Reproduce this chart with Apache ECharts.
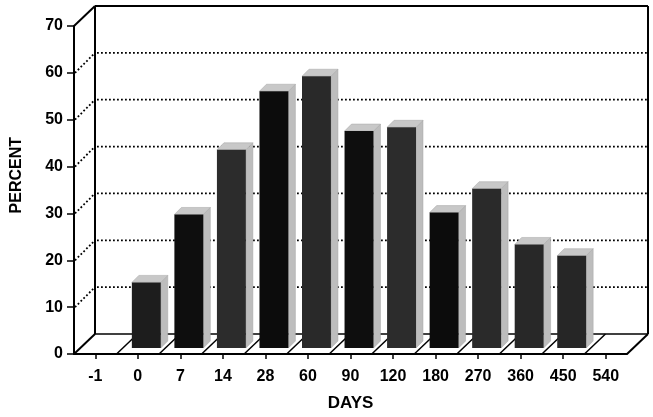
<!DOCTYPE html>
<html>
<head>
<meta charset="utf-8">
<script src="https://cdn.jsdelivr.net/npm/echarts@6/dist/echarts.min.js"></script>
<style>
html,body{margin:0;padding:0;background:#fff;}
#chart{width:653px;height:417px;}
</style>
</head>
<body>
<div id="chart"></div>
<script>
// ---- data ----
const DAY_LABELS = ['-1', '0', '7', '14', '28', '60', '90', '120', '180', '270', '360', '450', '540'];
const BAR_DAYS = ['0', '7', '14', '28', '60', '90', '120', '180', '270', '360', '450'];
const PERCENT_VALUES = [14, 28.5, 42.3, 54.8, 58, 46.3, 47.1, 28.9, 34, 22.1, 19.7];
const Y_TICKS = [0, 10, 20, 30, 40, 50, 60, 70];

// ---- styles ----
const BAR_FILLS = ['#1d1d1d', '#0e0e0e', '#2c2c2c', '#0c0c0c', '#292929', '#0e0e0e', '#2c2c2c', '#0c0c0c', '#2a2a2a', '#282828', '#262626'];
const FONT = 'Liberation Sans';
const WALL_DX = 21, WALL_DY = -20;   // depth offset of back wall
const BAR_LIFT = 6;                  // bars sit slightly back from floor front edge
const BAR_DEPTH = 7;

const chart = echarts.init(document.getElementById('chart'), null, {renderer: 'canvas'});

function frameRender(params, api) {
  const band = api.size([1, 0])[0];
  const nCat = DAY_LABELS.length;
  const x0 = api.coord([0, 0])[0] - band / 2;
  const x1 = api.coord([nCat - 1, 0])[0] + band / 2;
  const yMin = Y_TICKS[0], yMax = Y_TICKS[Y_TICKS.length - 1];
  const yb = api.coord([0, yMin])[1];
  const yt = api.coord([0, yMax])[1];
  const solid = {stroke: '#000', lineWidth: 2, fill: null};
  const thin = {stroke: '#000', lineWidth: 1.5, fill: null};
  const dotted = {stroke: '#000', lineWidth: 1.8, lineDash: [1.8, 2.2], fill: null};
  const ch = [];
  const line = (a, b, c, d, style) => ch.push({type: 'line', shape: {x1: a, y1: b, x2: c, y2: d}, style: style, silent: true});
  // back wall
  line(x0 + WALL_DX, yb + WALL_DY, x0 + WALL_DX, yt + WALL_DY, solid);
  line(x0 + WALL_DX, yt + WALL_DY, x1 + WALL_DX, yt + WALL_DY, solid);
  line(x1 + WALL_DX, yt + WALL_DY, x1 + WALL_DX, yb + WALL_DY, solid);
  line(x0 + WALL_DX, yb + WALL_DY, x1 + WALL_DX, yb + WALL_DY, thin);
  // side wall diagonals
  line(x0, yt, x0 + WALL_DX, yt + WALL_DY, solid);
  line(x0, yb, x0 + WALL_DX, yb + WALL_DY, solid);
  // gridlines
  for (let k = 1; k < Y_TICKS.length - 1; k++) {
    const y = api.coord([0, Y_TICKS[k]])[1];
    line(x0 + 1, y, x0 + WALL_DX, y + WALL_DY, dotted);
    line(x0 + WALL_DX + 2, y + WALL_DY, x1 + WALL_DX, y + WALL_DY, dotted);
  }
  // floor dividers
  for (let k = 1; k <= nCat; k++) {
    const x = x0 + k * band;
    line(x, yb, x + WALL_DX, yb + WALL_DY, k === nCat ? solid : thin);
  }
  return {type: 'group', children: ch};
}

function barRender(params, api) {
  const idx = params.dataIndex;
  const band = api.size([1, 0])[0];
  const top = api.coord([api.value(0), api.value(1)]);
  const base = api.coord([api.value(0), 0]);
  const L = top[0] - 0.14 * band;
  const R = L + 0.68 * band;
  const yT = top[1] - BAR_LIFT;
  const yB = base[1] - BAR_LIFT;
  const d = BAR_DEPTH;
  return {
    type: 'group',
    children: [
      {type: 'polygon', shape: {points: [[R, yT], [R + d, yT - d], [R + d, yB - d], [R, yB]]},
       style: {fill: '#bdbdbd', stroke: '#a5a5a5', lineWidth: 0.5}},
      {type: 'polygon', shape: {points: [[L, yT], [L + d, yT - d], [R + d, yT - d], [R, yT]]},
       style: {fill: '#c8c8c8', stroke: '#a5a5a5', lineWidth: 0.5}},
      {type: 'rect', shape: {x: L, y: yT, width: R - L, height: yB - yT},
       style: {fill: BAR_FILLS[idx % BAR_FILLS.length]}}
    ]
  };
}

const option = {
  animation: false,
  backgroundColor: '#fff',
  grid: {left: 74, right: 26, top: 26, bottom: 61, containLabel: false},
  xAxis: {
    type: 'category',
    data: DAY_LABELS,
    boundaryGap: true,
    axisLine: {show: true, lineStyle: {color: '#000', width: 2}},
    axisTick: {show: true, alignWithLabel: true, length: 5, lineStyle: {color: '#000', width: 1.5}},
    axisLabel: {color: '#000', fontFamily: FONT, fontWeight: 'bold', fontSize: 16, margin: 15, interval: 0},
    splitLine: {show: false},
    name: 'DAYS',
    nameLocation: 'middle',
    nameGap: 41,
    nameTextStyle: {color: '#000', fontFamily: FONT, fontWeight: 'bold', fontSize: 17}
  },
  yAxis: {
    type: 'value',
    min: 0, max: 70, interval: 10,
    axisLine: {show: true, lineStyle: {color: '#000', width: 2}},
    axisTick: {show: true, length: 7, lineStyle: {color: '#000', width: 1.5}},
    axisLabel: {color: '#000', fontFamily: FONT, fontWeight: 'bold', fontSize: 16, margin: 11},
    splitLine: {show: false}
  },
  graphic: [{
    type: 'text',
    left: 9, top: 137,
    rotation: Math.PI / 2,
    style: {text: 'PERCENT', fill: '#000', font: 'bold 16px "Liberation Sans"'}
  }],
  series: [
    {type: 'custom', z: 1, silent: true, data: [[0, 0]], renderItem: frameRender},
    {type: 'custom', z: 2, silent: true,
     data: BAR_DAYS.map((d, i) => [d, PERCENT_VALUES[i]]),
     renderItem: barRender}
  ]
};
chart.setOption(option);
</script>
</body>
</html>
